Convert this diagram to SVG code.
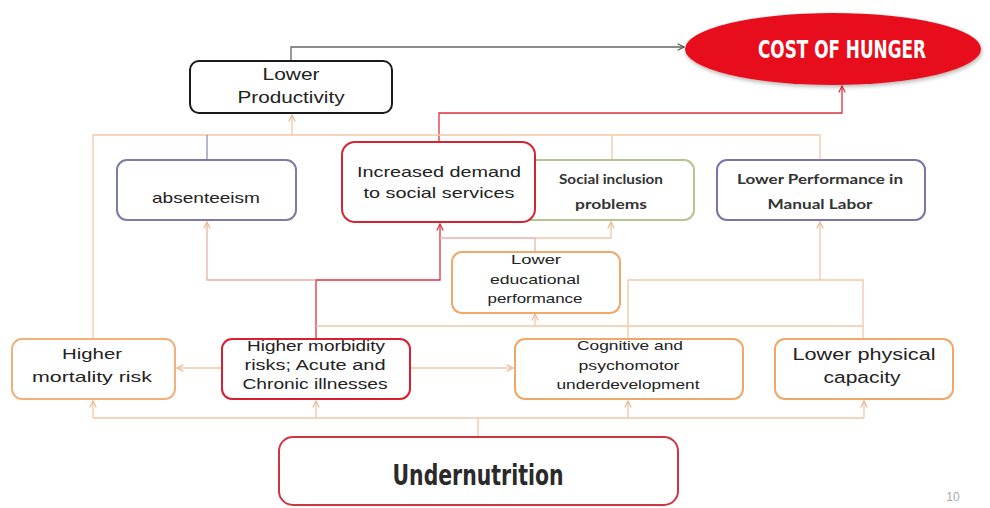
<svg xmlns="http://www.w3.org/2000/svg" width="990" height="508" viewBox="0 0 990 508">
<style>
.box{fill:#fff;stroke-width:2}
.t{font-family:"Liberation Sans",Arial,sans-serif;fill:#222;text-anchor:middle}
.r{font-family:Lato,"Open Sans",sans-serif;font-weight:bold;fill:#333;text-anchor:middle}
.c{fill:none;stroke-width:1.3}
.or{stroke:#f2c7a6}
.rd{stroke:#e0303c}
.pk{stroke:#eab0a8}
.gy{stroke:#666}
.pu{stroke:#9090b0}
</style>
<defs>
<marker id="ao" viewBox="0 0 10 10" refX="9" refY="5" markerWidth="8" markerHeight="8" orient="auto" markerUnits="userSpaceOnUse">
<path d="M1,1 L9,5 L1,9" fill="none" stroke="#e8b890" stroke-width="1.5"/>
</marker>
<marker id="ar" viewBox="0 0 10 10" refX="9" refY="5" markerWidth="8" markerHeight="8" orient="auto" markerUnits="userSpaceOnUse">
<path d="M1,1 L9,5 L1,9" fill="none" stroke="#e0303c" stroke-width="1.5"/>
</marker>
<marker id="ag" viewBox="0 0 10 10" refX="9" refY="5" markerWidth="8" markerHeight="8" orient="auto" markerUnits="userSpaceOnUse">
<path d="M1,1 L9,5 L1,9" fill="none" stroke="#555" stroke-width="1.5"/>
</marker>
<filter id="sh" x="-10%" y="-20%" width="120%" height="140%">
<feGaussianBlur in="SourceAlpha" stdDeviation="2"/>
<feOffset dx="1" dy="2"/>
<feComponentTransfer><feFuncA type="linear" slope="0.3"/></feComponentTransfer>
<feMerge><feMergeNode/><feMergeNode in="SourceGraphic"/></feMerge>
</filter>
</defs>
<rect width="990" height="508" fill="#fff"/>

<g id="connectors">
<path class="c gy" d="M291,61 V47 H684" marker-end="url(#ag)"/>
<path class="c rd" d="M439,142 V113 H842 V86" marker-end="url(#ar)"/>
<path class="c or" d="M93,338 V135 H820 V160"/>
<path class="c or" d="M612,135 V160"/>
<path class="c pu" d="M207,135 V160"/>
<path class="c or" d="M292,135 V115" marker-end="url(#ao)"/>
<path class="c rd" d="M316,338 V280 H440 V224" marker-end="url(#ar)"/>
<path class="c pk" d="M316,280 H207 V222" marker-end="url(#ao)"/>
<path class="c or" d="M316,326 H863"/>
<path class="c or" d="M535,326 V314" marker-end="url(#ao)"/>
<path class="c pk" d="M535,252 V238 H440"/>
<path class="c or" d="M535,238 H611 V222" marker-end="url(#ao)"/>
<path class="c or" d="M628,338 V280 H863 V338"/>
<path class="c or" d="M820,280 V222" marker-end="url(#ao)"/>
<path class="c or" d="M222,368 H177" marker-end="url(#ao)"/>
<path class="c or" d="M410,368 H513" marker-end="url(#ao)"/>
<path class="c or" d="M478,437 V418"/>
<path class="c or" d="M93,418 H864"/>
<path class="c or" d="M93,418 V401" marker-end="url(#ao)"/>
<path class="c or" d="M316,418 V401" marker-end="url(#ao)"/>
<path class="c or" d="M628,418 V401" marker-end="url(#ao)"/>
<path class="c or" d="M864,418 V401" marker-end="url(#ao)"/>
</g>

<g id="cost">
<ellipse cx="833" cy="49" rx="148" ry="36" fill="#e8101a" filter="url(#sh)"/>
<text x="842" y="58" font-family="'DejaVu Sans Condensed','DejaVu Sans',sans-serif" font-weight="bold" font-size="24" fill="#fff" text-anchor="middle" textLength="168" lengthAdjust="spacingAndGlyphs">COST OF HUNGER</text>
</g>

<g id="productivity">
<rect class="box" x="190" y="61" width="202" height="52" rx="9" stroke="#1a1a1a" stroke-width="2.5"/>
<text class="t" x="291" y="80" font-size="17" textLength="57" lengthAdjust="spacingAndGlyphs">Lower</text>
<text class="t" x="291" y="103" font-size="17" textLength="107" lengthAdjust="spacingAndGlyphs">Productivity</text>
</g>

<g id="absenteeism">
<rect class="box" x="117" y="160" width="179" height="60" rx="10" stroke="#7c7ca4"/>
<text class="t" x="206" y="203" font-size="15" textLength="108" lengthAdjust="spacingAndGlyphs">absenteeism</text>
</g>

<g id="social">
<rect class="box" x="520" y="160" width="174" height="60" rx="10" stroke="#b4c690"/>
<text class="r" x="611" y="184" font-size="14" textLength="104" lengthAdjust="spacingAndGlyphs">Social inclusion</text>
<text class="r" x="611" y="209" font-size="14" textLength="72" lengthAdjust="spacingAndGlyphs">problems</text>
</g>

<g id="demand">
<rect class="box" x="342" y="142" width="193" height="80" rx="13" stroke="#d42434" stroke-width="2.5"/>
<text class="t" x="439" y="177" font-size="15" textLength="164" lengthAdjust="spacingAndGlyphs">Increased  demand</text>
<text class="t" x="439" y="198" font-size="15" textLength="151" lengthAdjust="spacingAndGlyphs">to  social  services</text>
</g>

<g id="manual">
<rect class="box" x="717" y="160" width="208" height="60" rx="10" stroke="#7c74a8"/>
<text class="r" x="820" y="184" font-size="14" textLength="166" lengthAdjust="spacingAndGlyphs">Lower Performance in</text>
<text class="r" x="820" y="209" font-size="14" textLength="105" lengthAdjust="spacingAndGlyphs">Manual Labor</text>
</g>

<g id="educational">
<rect class="box" x="452" y="252" width="168" height="61" rx="10" stroke="#f2a868"/>
<text class="t" x="536" y="264" font-size="13" textLength="50" lengthAdjust="spacingAndGlyphs">Lower</text>
<text class="t" x="535" y="284" font-size="13" textLength="90" lengthAdjust="spacingAndGlyphs">educational</text>
<text class="t" x="535" y="303" font-size="13" textLength="95" lengthAdjust="spacingAndGlyphs">performance</text>
</g>

<g id="mortality">
<rect class="box" x="12" y="339" width="163" height="60" rx="10" stroke="#f2b07a"/>
<text class="t" x="92" y="359" font-size="15" textLength="60" lengthAdjust="spacingAndGlyphs">Higher</text>
<text class="t" x="92" y="382" font-size="15" textLength="120" lengthAdjust="spacingAndGlyphs">mortality  risk</text>
</g>

<g id="morbidity">
<rect class="box" x="222" y="339" width="188" height="60" rx="10" stroke="#d81e30" stroke-width="2.5"/>
<text class="t" x="316" y="351" font-size="14" textLength="138" lengthAdjust="spacingAndGlyphs">Higher morbidity</text>
<text class="t" x="315" y="370" font-size="14" textLength="141" lengthAdjust="spacingAndGlyphs">risks; Acute and</text>
<text class="t" x="315" y="389" font-size="14" textLength="145" lengthAdjust="spacingAndGlyphs">Chronic illnesses</text>
</g>

<g id="cognitive">
<rect class="box" x="515" y="339" width="228" height="60" rx="10" stroke="#f0a868"/>
<text class="t" x="630" y="350" font-size="13" textLength="106" lengthAdjust="spacingAndGlyphs">Cognitive and</text>
<text class="t" x="629" y="370" font-size="13" textLength="101" lengthAdjust="spacingAndGlyphs">psychomotor</text>
<text class="t" x="628" y="389" font-size="13" textLength="143" lengthAdjust="spacingAndGlyphs">underdevelopment</text>
</g>

<g id="physical">
<rect class="box" x="775" y="339" width="178" height="60" rx="10" stroke="#f0a868"/>
<text class="t" x="864" y="360" font-size="16" textLength="143" lengthAdjust="spacingAndGlyphs">Lower  physical</text>
<text class="t" x="862" y="383" font-size="16" textLength="77" lengthAdjust="spacingAndGlyphs">capacity</text>
</g>

<g id="undernutrition">
<rect class="box" x="279" y="437" width="399" height="68" rx="14" stroke="#d03444" stroke-width="2.5"/>
<text x="478" y="485" font-family="'DejaVu Sans Condensed','DejaVu Sans',sans-serif" font-weight="bold" font-size="28" fill="#2a2a2a" text-anchor="middle" textLength="171" lengthAdjust="spacingAndGlyphs">Undernutrition</text>
</g>

<text x="953" y="501" font-family="'Liberation Sans',Arial,sans-serif" font-size="12" fill="#aaa" text-anchor="middle">10</text>
</svg>
